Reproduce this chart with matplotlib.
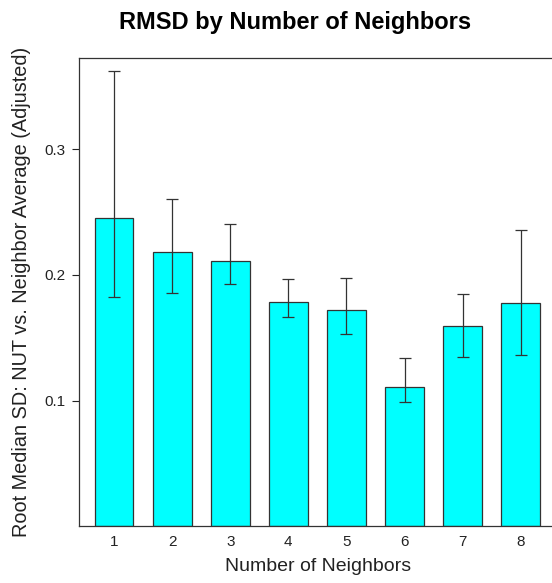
import matplotlib
matplotlib.use("Agg")
import matplotlib.pyplot as plt

neighbors = [1, 2, 3, 4, 5, 6, 7, 8]
tick_labels = ["1", "2", "3", "4", "5", "6", "7", "8"]
rmsd = [0.2456, 0.2181, 0.2111, 0.1788, 0.1722, 0.1111, 0.1592, 0.1775]
err_low = [0.1823, 0.1859, 0.1928, 0.1668, 0.1528, 0.0992, 0.1350, 0.1364]
err_high = [0.3623, 0.2605, 0.2403, 0.1968, 0.1974, 0.1337, 0.1849, 0.2358]

plt.rcParams['font.family'] = ['Liberation Sans', 'DejaVu Sans']

W, H = 552, 583
fig = plt.figure(figsize=(W / 100, H / 100), dpi=100)
left, right, top, bottom = 79, 557, 58, 526.4
ax = fig.add_axes([left / W, (H - bottom) / H, (right - left) / W, (bottom - top) / H])

ax.bar(neighbors, rmsd, width=0.67, color='#00FFFF', edgecolor='#333333', linewidth=0.9, zorder=2)
yerr = [[r - lo for r, lo in zip(rmsd, err_low)], [hi - r for r, hi in zip(rmsd, err_high)]]
ax.errorbar(neighbors, rmsd, yerr=yerr, fmt='none', ecolor='#333333', elinewidth=0.9,
            capsize=4.3, capthick=0.9, zorder=3)

ax.set_xlim(0.398, 8.622)
ax.set_ylim(0, 0.3726)
ax.set_yticks([0.1, 0.2, 0.3])
ax.set_yticklabels(["0.1", "0.2", "0.3"])
ax.set_xticks(neighbors)
ax.set_xticklabels(tick_labels)
ax.tick_params(axis='y', length=5, width=0.8, pad=5, labelsize=11, colors='#222222')
ax.tick_params(axis='x', length=0, pad=6, labelsize=11, colors='#222222')
for s in ax.spines.values():
    s.set_linewidth(0.9)
    s.set_color('#333333')

ax.set_title("RMSD by Number of Neighbors", fontsize=17, fontweight='bold', pad=21,
             x=(W / 2 + 19 - left) / (right - left))
ax.set_xlabel("Number of Neighbors", fontsize=14, labelpad=7, color='#222222')
ax.set_ylabel("Root Median SD: NUT vs. Neighbor Average (Adjusted)", fontsize=14.3, labelpad=9, color='#222222')

fig.savefig("out.png", dpi=100)
